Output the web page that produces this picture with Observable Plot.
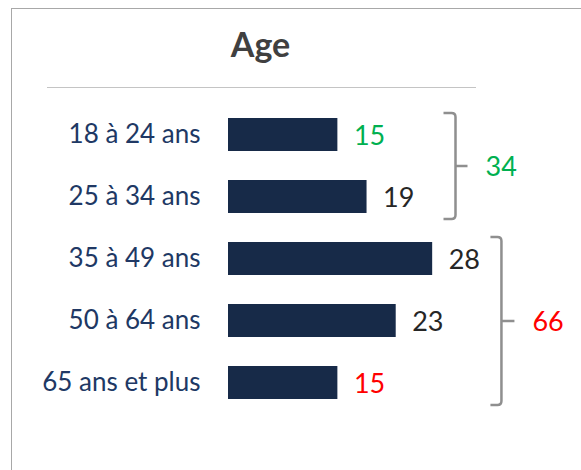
<!DOCTYPE html>
<html><head><meta charset="utf-8">
<script src="https://cdn.jsdelivr.net/npm/d3@7"></script>
<script src="https://cdn.jsdelivr.net/npm/@observablehq/plot@0.6"></script>
<style>
body{margin:0;background:#fff;font-family:Lato,sans-serif}
#wrap{position:relative;width:581px;height:470px;overflow:hidden;background:#fff}
#frame{position:absolute;left:11px;top:8px;right:-10px;bottom:-10px;border-left:1.5px solid #a8a8a8;border-top:1.5px solid #a8a8a8}
#title{position:absolute;left:0;width:521px;top:27px;line-height:34px;text-align:center;font-weight:700;font-size:34px;color:#404040}
#sep{position:absolute;left:47px;width:429px;top:87px;height:0;border-top:1.5px solid #c4c4c4}
#chart{position:absolute;left:0;top:0}
</style></head><body>
<div id="wrap"><div id="frame"></div><div id="title">Age</div><div id="sep"></div><div id="chart"></div></div>
<script>
const categories = ["18 à 24 ans", "25 à 34 ans", "35 à 49 ans", "50 à 64 ans", "65 ans et plus"];
const values = [15, 19, 28, 23, 15];
const valueColors = ["#00b050", "#262626", "#262626", "#262626", "#ff0000"];
const groupFirst = ["18 à 24 ans", "35 à 49 ans"];
const groupLast = ["25 à 34 ans", "65 ans et plus"];
const groupTotals = [34, 66];
const groupColors = ["#00b050", "#ff0000"];

// layout (not data)
const bracketX = [31.2, 37.5];
const bracketArm = [12, 11];
const bracketTick = [12, 13];

const rows = categories.map((c, i) => ({cat: c, value: values[i], color: valueColors[i]}));

function brackets(index, scales) {
  const {x, y} = scales;
  const bw = typeof y.bandwidth === "function" ? y.bandwidth() : 0;
  const g = d3.create("svg:g");
  groupFirst.forEach((f, i) => {
    const top = y(f) - 5;
    const bot = y(groupLast[i]) + bw + 6;
    const mid = (top + bot) / 2;
    const bx = x(bracketX[i]);
    const a = bracketArm[i], r = 4, t = bracketTick[i];
    g.append("path")
      .attr("d", `M${bx - a},${top}L${bx - r},${top}Q${bx},${top} ${bx},${top + r}L${bx},${bot - r}Q${bx},${bot} ${bx - r},${bot}L${bx - a},${bot}M${bx},${mid}L${bx + t},${mid}`)
      .attr("fill", "none").attr("stroke", "#8f8f8f").attr("stroke-width", 2.5);
    g.append("text")
      .attr("x", bx + t + 18).attr("y", mid).attr("dy", "0.36em")
      .attr("text-anchor", "start")
      .attr("font-size", 27).attr("fill", groupColors[i])
      .attr("font-family", "Lato, sans-serif")
      .text(String(groupTotals[i]));
  });
  return g.node();
}

const chart = Plot.plot({
  width: 581, height: 470,
  marginLeft: 228, marginRight: 3, marginTop: 86, marginBottom: 40,
  style: {background: "transparent", fontFamily: "Lato, sans-serif"},
  x: {domain: [0, 48], axis: null},
  y: {domain: categories, padding: 0.474, label: null, axis: null},
  color: {type: "identity"},
  marks: [
    Plot.barX(rows, {x: "value", y: "cat", fill: "#172a48"}),
    Plot.axisY({tickSize: 0, tickPadding: 28, fontSize: 26, fill: "#203864", label: null}),
    Plot.text(rows, {x: "value", y: "cat", text: d => String(d.value), dx: 16, dy: 1, textAnchor: "start", fill: "color", fontSize: 27}),
    brackets
  ]
});
document.getElementById("chart").appendChild(chart);
</script>
</body></html>
